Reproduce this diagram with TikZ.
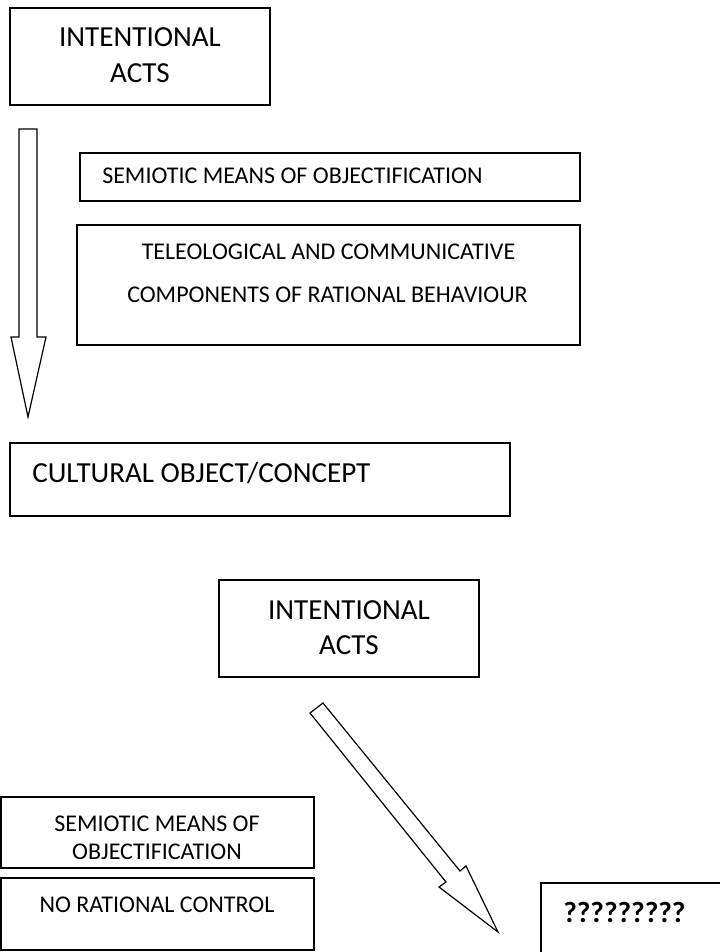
\documentclass[tikz,border=0pt]{standalone}
\usepackage{fontspec}
\setmainfont{Carlito}
\usetikzlibrary{shapes,arrows}

\begin{document}
\begin{tikzpicture}[x=0.75pt, y=-0.75pt]
\tikzstyle{boxr}=[rectangle, draw=black, line width=1.1pt, inner sep=0pt, outer sep=0pt]
\tikzstyle{bigtxt}=[anchor=base, inner sep=0pt, font=\fontsize{21.8}{26}\selectfont]
\tikzstyle{smalltxt}=[anchor=base, inner sep=0pt, font=\fontsize{18}{22}\selectfont]
\tikzstyle{blockarrow}=[draw=black, line width=0.9pt, fill=white, line join=miter]

\useasboundingbox (0,0) rectangle (720,952);
\clip (0,0) rectangle (720,952);

% upper part
\node[boxr, minimum width=195pt, minimum height=72.75pt] (B0) at (140,56.5) {};
\node[bigtxt] (T0a) at (140,47) {INTENTIONAL};
\node[bigtxt] (T0b) at (140,83) {ACTS};

\coordinate (V1) at (19,129);
\coordinate (V2) at (37,129);
\coordinate (V3) at (37,337);
\coordinate (V4) at (46,337);
\coordinate (V5) at (28,417);
\coordinate (V6) at (11,337);
\coordinate (V7) at (19,337);
\draw[blockarrow] (V1) -- (V2) -- (V3) -- (V4) -- (V5) -- (V6) -- (V7) -- cycle;

\node[boxr, minimum width=375pt, minimum height=36pt] (B1) at (330,177) {};
\node[smalltxt, anchor=base west] (T1) at (102,184) {SEMIOTIC MEANS OF OBJECTIFICATION};

\node[boxr, minimum width=377.25pt, minimum height=90pt] (B2) at (328.5,285) {};
\node[smalltxt] (T2a) at (328.5,259) {TELEOLOGICAL AND COMMUNICATIVE};
\node[smalltxt] (T2b) at (327.5,302) {COMPONENTS OF RATIONAL BEHAVIOUR};

\node[boxr, minimum width=375pt, minimum height=54.75pt] (B3) at (260,479.5) {};
\node[bigtxt, anchor=base west] (T3) at (32,482) {CULTURAL OBJECT/CONCEPT};

% lower part
\node[boxr, minimum width=195pt, minimum height=72.75pt] (B4) at (349,628.5) {};
\node[bigtxt] (T4a) at (349,619) {INTENTIONAL};
\node[bigtxt] (T4b) at (349,654) {ACTS};

\coordinate (D1) at (323,703);
\coordinate (D2) at (460,871);
\coordinate (D3) at (466,866);
\coordinate (D4) at (498,932);
\coordinate (D5) at (439,887);
\coordinate (D6) at (446,882);
\coordinate (D7) at (310,713);
\draw[blockarrow] (D1) -- (D2) -- (D3) -- (D4) -- (D5) -- (D6) -- (D7) -- cycle;

\node[boxr, minimum width=234.75pt, minimum height=53.25pt] (B5) at (157.5,832.5) {};
\node[smalltxt] (T5a) at (157,831) {SEMIOTIC MEANS OF};
\node[smalltxt] (T5b) at (157,859) {OBJECTIFICATION};

\node[boxr, minimum width=234.75pt, minimum height=54pt] (B6) at (157.5,914) {};
\node[smalltxt] (T6) at (157,912) {NO RATIONAL CONTROL};

\node[boxr, minimum width=141pt, minimum height=70.5pt] (B7) at (635,930) {};
\node[bigtxt, anchor=base west, font=\fontsize{22}{26}\selectfont\bfseries] (T7) at (563,922) {?????????};
\end{tikzpicture}
\end{document}
